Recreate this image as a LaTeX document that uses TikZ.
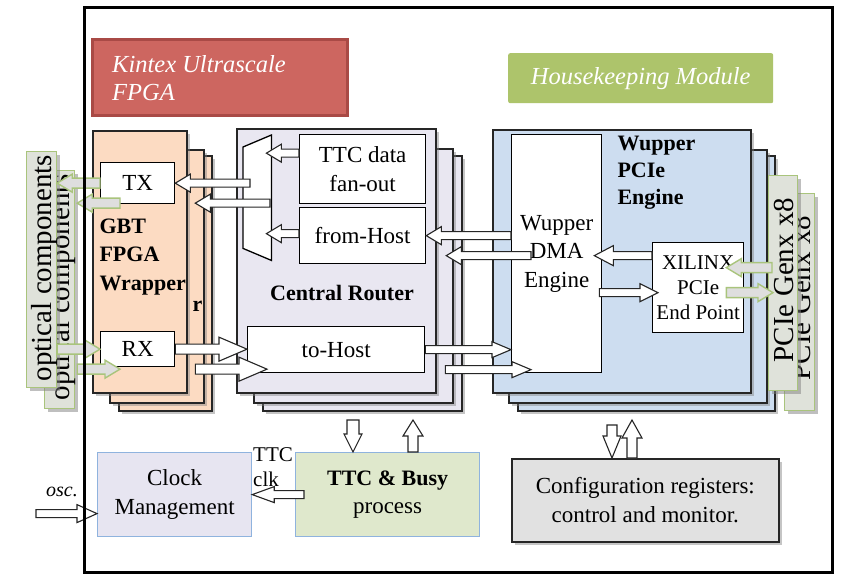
\documentclass[tikz,border=0pt]{standalone}
\usepackage{fontspec}
\setmainfont{Liberation Serif}
\usetikzlibrary{shadows,calc}

\definecolor{kinfill}{HTML}{CD6660}
\definecolor{kinedge}{HTML}{A94A46}
\definecolor{hkfill}{HTML}{ADC46B}
\definecolor{gbtfill}{HTML}{FCDBC2}
\definecolor{crfill}{HTML}{E9E7F1}
\definecolor{wupfill}{HTML}{CDDDF0}
\definecolor{linkfill}{HTML}{DFE2DA}
\definecolor{linkedge}{HTML}{A9C47C}
\definecolor{clkfill}{HTML}{E7E5F1}
\definecolor{ttcfill}{HTML}{DFE8CC}
\definecolor{softblue}{HTML}{8FB3DE}
\definecolor{cfgfill}{HTML}{E1E1E1}

\tikzset{
  dims/.code args={#1/#2/#3}{\def\asw{#1}\def\ahw{#2}\def\ahl{#3}},
  blk/.style={draw=black!85, fill=white, line width=1.1pt, line join=miter, dims=4/9/15},
  grn/.style={draw=linkedge, fill=black!13, line width=1.4pt, dims=5/9/15},
  stack/.style={draw=black!85, line width=1.6pt,
    drop shadow={shadow xshift=3pt, shadow yshift=-3pt, opacity=0.45}},
  inbox/.style={draw=black, fill=white, line width=1.3pt},
  link/.style={draw=linkedge, fill=linkfill, line width=1.2pt,
    drop shadow={shadow xshift=3pt, shadow yshift=-3pt, opacity=0.5}},
  boldtxt/.style={font=\bfseries\fontsize{22}{28.5}\selectfont},
  rottxt/.style={rotate=90, font=\fontsize{29}{30}\selectfont},
  smalltxt/.style={font=\fontsize{21}{25}\selectfont},
  titletxt/.style={text=white, font=\itshape\fontsize{24.5}{28}\selectfont},
}

% rectangle node from its top-left and bottom-right corners
\newcommand\boxnode[7]{%
  \node[#6, anchor=north west, inner sep=0pt,
        minimum width={#4-#2}, minimum height={#5-#3}] (#1) at (#2,#3) {#7};}

% hollow block arrow from tail #2 to tip #3
\newcommand\blockarrow[3][]{%
  \path let \p1=(#2), \p2=(#3) in \pgfextra{%
    \pgfmathsetmacro\tmpang{atan2(\y2-\y1,\x2-\x1)}%
    \pgfmathsetmacro\tmplen{veclen(\x2-\x1,\y2-\y1)}%
    \global\let\baang\tmpang \global\let\balen\tmplen
    \xdef\bax{\x1}\xdef\bay{\y1}};
  \draw[blk,#1,shift={(\bax,\bay)},rotate=\baang]
    (0,\asw) -- (\balen-\ahl,\asw) -- (\balen-\ahl,\ahw) -- (\balen,0)
    -- (\balen-\ahl,-\ahw) -- (\balen-\ahl,-\asw) -- (0,-\asw) -- cycle;}

\begin{document}
\begin{tikzpicture}[x=1pt,y=-1pt,font=\fontsize{23}{28.5}\selectfont]
\useasboundingbox (0,0) rectangle (841,574);
\fill[white] (0,0) rectangle (841,574);

% title labels
\boxnode{kintex}{91}{38}{346}{114}{fill=kinfill, draw=kinedge, line width=2.5pt}{}
\node[titletxt, anchor=west, align=left, inner sep=0pt] (kintext) at ($(kintex.west)+(21,1)$) {Kintex Ultrascale\\FPGA};
\boxnode{hk}{508}{53}{773}{103}{fill=hkfill, rounded corners=2pt, titletxt}{Housekeeping Module}

% rear layers of the three stacks
\boxnode{gbtC}{118}{155}{211}{410}{stack, fill=gbtfill}{}
\boxnode{crC}{262}{155}{461}{410}{stack, fill=crfill}{}
\boxnode{wupC}{517}{155}{774}{410}{stack, fill=wupfill}{}
\boxnode{gbtB}{109}{149}{203}{402}{stack, fill=gbtfill}{}
\node[boldtxt, inner sep=0pt] (gbtBtail) at (197.5,306) {r};
\boxnode{crB}{253}{148}{452}{402}{stack, fill=crfill}{}
\boxnode{wupB}{508}{149}{766}{402}{stack, fill=wupfill}{}

% link media
\boxnode{optB}{44}{170}{74}{408}{link}{}
\node[rottxt] (optBtext) at (63,287) {optical components};
\boxnode{opt}{26}{151}{56}{387}{link}{}
\node[rottxt] (opttext) at (45,268) {optical components};
\boxnode{pcieB}{784}{193}{814}{410}{link}{}
\node[rottxt] (pcieBtext) at (801,298) {PCIe Genx x8};
\boxnode{pcie}{768}{175}{797}{390}{link}{}
\node[rottxt] (pcietext) at (784,280) {PCIe Genx x8};

% front layers
\boxnode{gbt}{92}{130}{186}{392}{stack, fill=gbtfill}{}
\boxnode{cr}{236}{128}{435}{392}{stack, fill=crfill}{}
\boxnode{wup}{492}{129}{750}{392}{stack, fill=wupfill}{}

% inner blocks
\boxnode{tx}{100}{162}{174}{203}{inbox}{TX}
\boxnode{rx}{100}{331}{174}{366}{inbox}{RX}
\node[boldtxt, anchor=west, align=left] (gbttext) at (96,257) {GBT\\FPGA\\Wrapper};

\node[anchor=north west, inner sep=0pt, minimum width=28, minimum height=125] (mux) at (243,135) {};
\draw[inbox] ($(mux.north west)+(0,12)$) -- (mux.north east) -- (mux.south east)
  -- ($(mux.south west)+(0,-12)$) -- cycle;
\boxnode{fanout}{299}{134}{425}{203}{inbox, align=center}{TTC data\\fan-out}
\boxnode{fromhost}{299}{207}{425}{263}{inbox}{from-Host}
\node[boldtxt] (crtext) at (342,293) {Central Router};
\boxnode{tohost}{247}{326}{424}{372}{inbox}{to-Host}

\boxnode{dma}{511}{134}{601}{372}{inbox, align=center}{Wupper\\DMA\\Engine}
\node[boldtxt, anchor=west, align=left, font=\bfseries\fontsize{22}{27}\selectfont] (wuptext) at (614,173) {Wupper\\PCIe\\Engine};
\boxnode{xil}{652}{242}{743}{332}{inbox, align=center, smalltxt}{XILINX\\PCIe\\End Point}

% data paths between rear layers
\blockarrow[shift={(20,20)}]{$(tx.east -| mux.west)+(7,0)$}{tx.east}
\blockarrow[shift={(20,20)}]{dma.west |- fromhost.east}{fromhost.east}
\blockarrow[shift={(20,20)},dims=5/12/28]{rx.east}{tohost.west |- rx.east}
\blockarrow[shift={(20,20)},dims=4/8/19]{tohost.east}{dma.west |- tohost.east}
\blockarrow[grn,shift={(20,20)}]{tx.west}{opt.east |- tx.west}
\blockarrow[grn,shift={(20,20)}]{opt.east |- rx.west}{rx.west}

% data paths of the front layer
\blockarrow{$(tx.east -| mux.west)+(7,0)$}{tx.east}
\blockarrow{$(fanout.west)+(0,-16)$}{$(fanout.west -| mux.east)+(-5,-16)$}
\blockarrow{$(fromhost.west)+(0,-2)$}{$(fromhost.west -| mux.east)+(-5,-2)$}
\blockarrow{dma.west |- fromhost.east}{fromhost.east}
\blockarrow[dims=5/12/28]{rx.east}{tohost.west |- rx.east}
\blockarrow[dims=4/8/19]{tohost.east}{dma.west |- tohost.east}
\blockarrow[dims=4/10/19]{$(xil.west)+(0,-32)$}{$(xil.west -| dma.east)+(-8,-32)$}
\blockarrow[dims=4/9/18]{$(xil.west -| dma.east)+(-3,5)$}{$(xil.west)+(6,5)$}

\blockarrow[grn]{tx.west}{opt.east |- tx.west}
\blockarrow[grn]{opt.east |- rx.west}{rx.west}
\blockarrow[grn]{$(pcie.west |- xil.east)+(4,-20)$}{$(xil.east)+(-18,-20)$}
\blockarrow[grn]{$(xil.east)+(-18,5)$}{$(pcie.west |- xil.east)+(5,5)$}

% lower row
\boxnode{clk}{97}{452}{251}{536}{draw=softblue, fill=clkfill, line width=1.2pt, align=center}{Clock\\Management}
\boxnode{ttc}{295}{452}{479}{536}{draw=softblue, fill=ttcfill, line width=1.2pt, align=center}{\textbf{\fontsize{22}{28.5}\selectfont TTC \& Busy}\\process}
\boxnode{cfg}{511}{458}{778}{541}{stack, fill=cfgfill, align=center}{Configuration registers:\\control and monitor.}

\blockarrow[dims=4/8/22]{$(ttc.west)+(9,0)$}{clk.east}
\node[smalltxt, anchor=west, align=left, inner sep=0pt] (clklabel) at (253,467) {TTC\\clk};
\coordinate (osc) at ($(clk.west)+(-61,19)$);
\blockarrow[dims=4/9/20]{osc}{$(clk.west)+(0,19)$}
\node[font=\itshape\fontsize{20}{22}\selectfont] (osctext) at (62,492) {osc.};

\blockarrow[dims=6/9/18]{$(ttc.north west)+(58,-32)$}{$(ttc.north west)+(58,0)$}
\blockarrow[dims=5/10/16]{$(ttc.north west)+(118,0)$}{$(ttc.north west)+(118,-32)$}
\blockarrow[dims=5/9/22]{$(cfg.north west)+(101,-33)$}{$(cfg.north west)+(101,0)$}
\blockarrow[dims=5/10/18]{$(cfg.north west)+(121,0)$}{$(cfg.north west)+(121,-38)$}

% board outline
\draw[line width=3pt] (84,7) rectangle (832,572);
\end{tikzpicture}
\end{document}
